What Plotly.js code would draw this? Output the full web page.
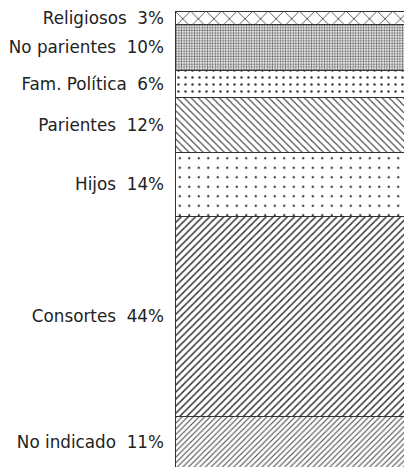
<!DOCTYPE html>
<html>
<head>
<meta charset="utf-8">
<script src="https://cdn.plot.ly/plotly-3.0.1.min.js"></script>
<style>html,body{margin:0;padding:0;background:#fff;}#chart{width:404px;height:467px;}</style>
</head>
<body>
<div id="chart"></div>
<script>
// Data (bottom to top of the stacked bar)
const categories = ["No indicado", "Consortes", "Hijos", "Parientes", "Fam. Política", "No parientes", "Religiosos"];
const percentages = [11, 44, 14, 12, 6, 10, 3];
const patternShapes = ["/", "/", ".", "\\", ".", ".", "x"];
const patternSizes = [4, 5, 9.5, 5, 7, 2.6, 11];
const patternSolidity = [0.25, 0.3, 0.05, 0.22, 0.1, 0.45, 0.15];
const patternColors = ["#444444", "#3a3a3a", "#3a3a3a", "#444444", "#3a3a3a", "#5e5e5e", "#444444"];

const traces = categories.map((name, i) => ({
  type: "bar",
  x: ["grupo"],
  y: [percentages[i]],
  name: name,
  width: 1,
  marker: {
    color: "#ffffff",
    line: { color: "#333333", width: 1 },
    pattern: {
      shape: patternShapes[i],
      size: patternSizes[i],
      solidity: patternSolidity[i],
      fgcolor: patternColors[i],
      bgcolor: "#ffffff",
      fillmode: "replace"
    }
  },
  hoverinfo: "skip"
}));

// tick positions from cumulative midpoints
const mids = [];
let acc = 0;
percentages.forEach(v => { mids.push(acc + v / 2); acc += v; });
const tickText = categories.map((c, i) => c + "\u00a0\u00a0" + percentages[i] + "%");

const layout = {
  width: 404,
  height: 467,
  margin: { l: 175, r: 0, t: 11, b: 0, pad: 0 },
  barmode: "stack",
  showlegend: false,
  paper_bgcolor: "#ffffff",
  plot_bgcolor: "#ffffff",
  font: { family: "DejaVu Sans, sans-serif", size: 16.8, color: "#222222" },
  xaxis: { visible: false, range: [-0.5, 0.5], fixedrange: true },
  yaxis: {
    range: [0, 100],
    tickmode: "array",
    tickvals: mids,
    ticktext: tickText,
    ticks: "",
    showgrid: false,
    zeroline: false,
    showline: false,
    ticklabelstandoff: 10,
    tickfont: { family: "DejaVu Sans, sans-serif", size: 16.8, color: "#222222" }
  }
};

Plotly.newPlot("chart", traces, layout, { staticPlot: true, displayModeBar: false });
</script>
</body>
</html>
